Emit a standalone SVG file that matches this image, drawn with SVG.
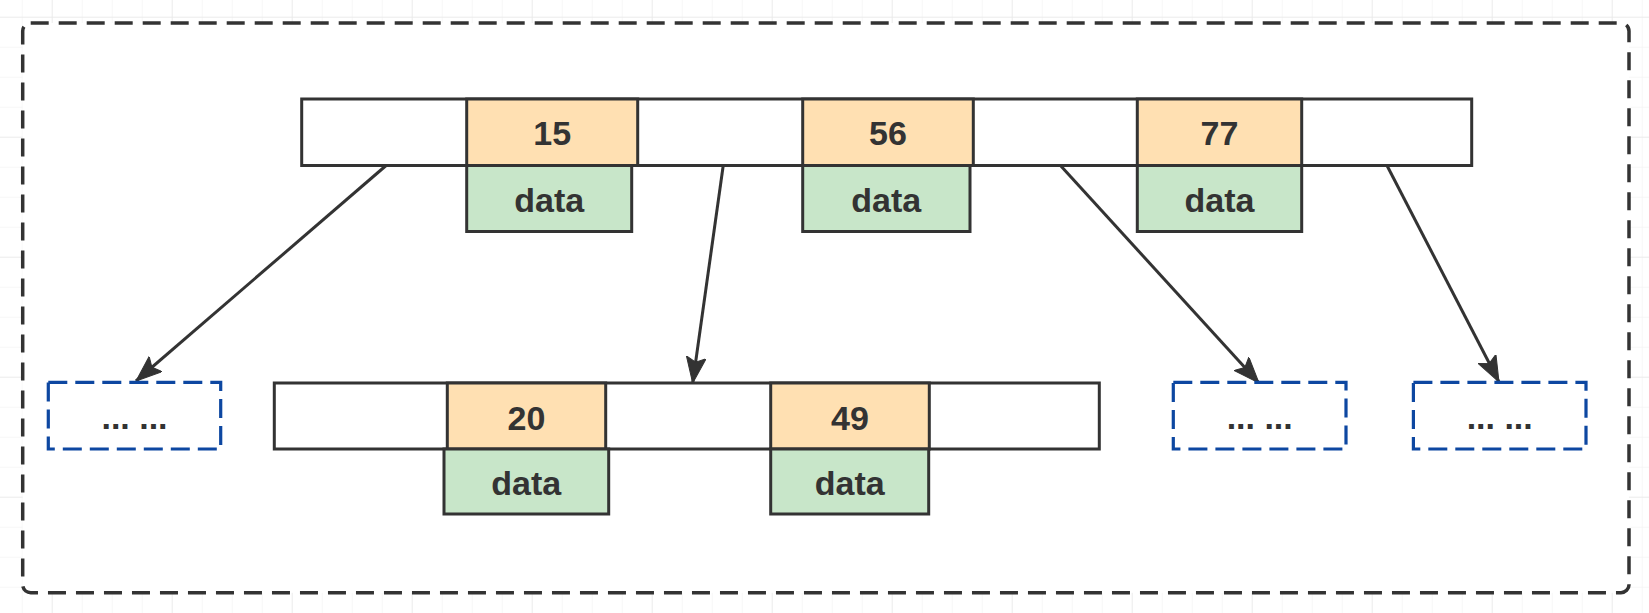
<svg xmlns="http://www.w3.org/2000/svg" width="1649" height="613" viewBox="0 0 1649 613">
  <defs>
    <pattern id="minor" x="21.7" y="16.7" width="30" height="30" patternUnits="userSpaceOnUse">
      <path d="M0,0 V30 M0,0 H30" fill="none" stroke="#f0f0f0" stroke-width="1"/>
    </pattern>
    <pattern id="major" x="51.7" y="16.7" width="120" height="120" patternUnits="userSpaceOnUse">
      <path d="M0,0 V120 M0,0 H120" fill="none" stroke="#e4e4e4" stroke-width="1"/>
    </pattern>
    <marker id="arrow" markerUnits="userSpaceOnUse" markerWidth="30" markerHeight="22" refX="26" refY="10" orient="auto">
      <path d="M0,0 L26,10 L0,20 L5,10 Z" fill="#333333" stroke="#333333" stroke-width="1"/>
    </marker>
    <style>
      .box { stroke: #333333; stroke-width: 3; }
      .node { fill: #ffffff; }
      .key { fill: #ffe0b2; }
      .data { fill: #c8e6c9; }
      .more { fill: #ffffff; stroke: #0d47a1; stroke-width: 3.2; stroke-dasharray: 19 8; }
      .lbl { font-family: "Liberation Sans", Arial, sans-serif; font-weight: bold; font-size: 34px; fill: #333333; text-anchor: middle; }
      .edge { fill: none; stroke: #333333; stroke-width: 3; marker-end: url(#arrow); }
    </style>
  </defs>

  <rect x="0" y="0" width="1649" height="613" fill="#ffffff"/>
  <rect x="0" y="0" width="1649" height="613" fill="url(#minor)"/>
  <rect x="0" y="0" width="1649" height="613" fill="url(#major)"/>

  <g id="container">
    <rect x="22.7" y="23" width="1606.3" height="569.7" rx="8" ry="8" fill="#ffffff" stroke="#333333" stroke-width="3.5" stroke-dasharray="18 10"/>
  </g>

  <g id="connectors">
    <line class="edge" x1="386.7" y1="165" x2="136" y2="381"/>
    <line class="edge" x1="723.3" y1="165" x2="692.7" y2="383"/>
    <line class="edge" x1="1060" y1="165" x2="1259" y2="383"/>
    <line class="edge" x1="1386.7" y1="165" x2="1499" y2="382"/>
  </g>

  <g id="root-node">
    <rect class="box node" x="301.7" y="99" width="1170" height="66.5"/>
    <rect class="box key" x="466.7" y="99" width="171" height="66.5"/>
    <text class="lbl" x="552.2" y="145">15</text>
    <rect class="box data" x="466.7" y="165.5" width="165" height="66"/>
    <text class="lbl" x="549.2" y="211.7">data</text>
    <rect class="box key" x="802.7" y="99" width="170.6" height="66.5"/>
    <text class="lbl" x="888" y="145">56</text>
    <rect class="box data" x="802.7" y="165.5" width="167.3" height="66"/>
    <text class="lbl" x="886.3" y="211.7">data</text>
    <rect class="box key" x="1137.3" y="99" width="164.4" height="66.5"/>
    <text class="lbl" x="1219.5" y="145">77</text>
    <rect class="box data" x="1137.3" y="165.5" width="164.4" height="66"/>
    <text class="lbl" x="1219.5" y="211.7">data</text>
  </g>

  <g id="child-node">
    <rect class="box node" x="274.3" y="383" width="825" height="66"/>
    <rect class="box key" x="447.3" y="383" width="158.4" height="66"/>
    <text class="lbl" x="526.5" y="430">20</text>
    <rect class="box data" x="444" y="449" width="164.7" height="65"/>
    <text class="lbl" x="526.3" y="495">data</text>
    <rect class="box key" x="770.7" y="383" width="158.6" height="66"/>
    <text class="lbl" x="850" y="430">49</text>
    <rect class="box data" x="770.7" y="449" width="158" height="65"/>
    <text class="lbl" x="849.7" y="495">data</text>
  </g>

  <g id="more-1">
    <rect class="more" x="48.3" y="382.3" width="172.4" height="66.7"/>
    <text class="lbl" x="134.5" y="429">... ...</text>
  </g>
  <g id="more-2">
    <rect class="more" x="1173.3" y="382.3" width="172.7" height="66.7"/>
    <text class="lbl" x="1259.7" y="429">... ...</text>
  </g>
  <g id="more-3">
    <rect class="more" x="1413.4" y="382.3" width="172.6" height="66.7"/>
    <text class="lbl" x="1499.7" y="429">... ...</text>
  </g>
</svg>
